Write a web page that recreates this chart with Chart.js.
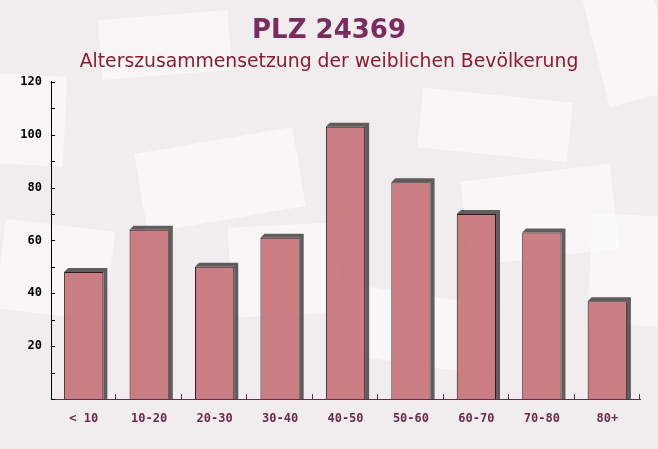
<!DOCTYPE html>
<html>
<head>
<meta charset="utf-8">
<script src="https://cdn.jsdelivr.net/npm/chart.js@4.4.1/dist/chart.umd.min.js"></script>
<style>
  html, body { margin: 0; padding: 0; background: #f1edef; }
  #wrap { width: 658px; height: 449px; }
</style>
</head>
<body>
<div id="wrap"><canvas id="myChart" width="658" height="449"></canvas></div>
<script>
// Daten
const categories = ['< 10', '10-20', '20-30', '30-40', '40-50', '50-60', '60-70', '70-80', '80+'];
const values = [48, 64, 50, 61, 103, 82, 70, 63, 37];
const yMax = 120;
const yStep = 10;

const purple = '#6b2a4a';
const depth = 4;

// hintergrund mit "briefen"
const background = {
    id: 'background',
    beforeDraw(chart) {
        const ctx = chart.ctx;
        ctx.save();
        ctx.fillStyle = '#f1edef';
        ctx.fillRect(0, 0, chart.width, chart.height);
        const env = [
            [165, 45, 130, 60, -0.08],
            [220, 180, 160, 80, -0.17],
            [55, 270, 110, 90, 0.12],
            [285, 270, 110, 90, -0.05],
            [495, 125, 150, 60, 0.1],
            [540, 215, 150, 85, -0.12],
            [630, 270, 80, 110, 0.05],
            [630, 45, 70, 110, -0.25],
            [30, 120, 70, 90, 0.05],
            [420, 330, 150, 70, 0.15]
        ];
        ctx.fillStyle = 'rgba(255,255,255,0.5)';
        env.forEach(function(e) {
            ctx.save();
            ctx.translate(e[0], e[1]);
            ctx.rotate(e[4]);
            ctx.fillRect(-e[2] / 2, -e[3] / 2, e[2], e[3]);
            ctx.restore();
        });
        ctx.restore();
    }
};

// 3D schatten hinter den balken
const shadow = {
    id: 'shadow',
    beforeDatasetsDraw(chart) {
        const ctx = chart.ctx;
        const meta = chart.getDatasetMeta(0);
        ctx.save();
        ctx.fillStyle = 'rgba(80,75,75,0.9)';
        meta.data.forEach(function(bar) {
            const l = bar.x - bar.width / 2;
            const r = bar.x + bar.width / 2;
            const t = bar.y;
            const b = bar.base;
            ctx.beginPath();
            ctx.moveTo(l, t);
            ctx.lineTo(l + depth, t - depth);
            ctx.lineTo(r + depth, t - depth);
            ctx.lineTo(r + depth, b);
            ctx.lineTo(r, b);
            ctx.lineTo(r, t);
            ctx.closePath();
            ctx.fill();
        });
        ctx.restore();
    },
    afterDraw(chart) {
        // kleine ticks nach innen
        const ctx = chart.ctx;
        const area = chart.chartArea;
        const y = chart.scales.y;
        ctx.save();
        ctx.lineWidth = 1;
        ctx.strokeStyle = '#000';
        ctx.beginPath();
        for (let v = 0; v <= yMax; v += yStep) {
            const py = Math.round(y.getPixelForValue(v)) + 0.5;
            ctx.moveTo(area.left, py);
            ctx.lineTo(area.left + 4, py);
        }
        ctx.stroke();
        ctx.strokeStyle = purple;
        ctx.beginPath();
        const w = (area.right - area.left) / categories.length;
        for (let i = 1; i <= categories.length; i++) {
            const px = Math.round(area.left + i * w) - 0.5;
            ctx.moveTo(px, area.bottom);
            ctx.lineTo(px, area.bottom - 5);
        }
        ctx.stroke();
        ctx.restore();
    }
};

const data = {
    labels: categories,
    datasets: [{
        data: values,
        backgroundColor: 'rgba(192,96,104,0.8)',
        borderColor: '#2b1c1c',
        borderWidth: 1,
        barPercentage: 0.75,
        categoryPercentage: 0.8
    }]
};

const config = {
    type: 'bar',
    data: data,
    options: {
        responsive: false,
        animation: false,
        layout: { padding: 0 },
        plugins: {
            legend: { display: false },
            tooltip: { enabled: false },
            title: {
                display: true,
                text: 'PLZ 24369',
                color: '#7b2c5e',
                font: { family: 'DejaVu Sans', size: 26, weight: 'bold' },
                padding: { top: 16, bottom: 4 }
            },
            subtitle: {
                display: true,
                text: 'Alterszusammensetzung der weiblichen Bevölkerung',
                color: '#8e1b30',
                font: { family: 'DejaVu Sans', size: 18.8, weight: 'normal' },
                padding: { top: 0, bottom: 8 }
            }
        },
        scales: {
            x: {
                grid: { display: false },
                border: { color: purple, width: 1 },
                ticks: {
                    color: purple,
                    padding: 5,
                    font: { family: 'DejaVu Sans Mono', size: 12, weight: 'bold' }
                },
                afterFit: function(scale) { scale.height = 50; }
            },
            y: {
                min: 0,
                max: yMax,
                grid: { display: false, drawTicks: false },
                border: { color: '#000', width: 1 },
                ticks: {
                    stepSize: yStep,
                    color: '#000',
                    padding: 9,
                    font: { family: 'DejaVu Sans Mono', size: 12, weight: 'bold' },
                    callback: function(v) { return v % 20 === 0 && v > 0 ? v : ''; }
                },
                afterFit: function(scale) { scale.width = 51; }
            },
            // leerer rand rechts
            rand: {
                type: 'linear',
                position: 'right',
                display: true,
                grid: { display: false, drawTicks: false },
                border: { display: false },
                ticks: { display: false },
                afterFit: function(scale) { scale.width = 18; }
            }
        }
    },
    plugins: [background, shadow]
};

const myChart = new Chart(document.getElementById('myChart'), config);
</script>
</body>
</html>
